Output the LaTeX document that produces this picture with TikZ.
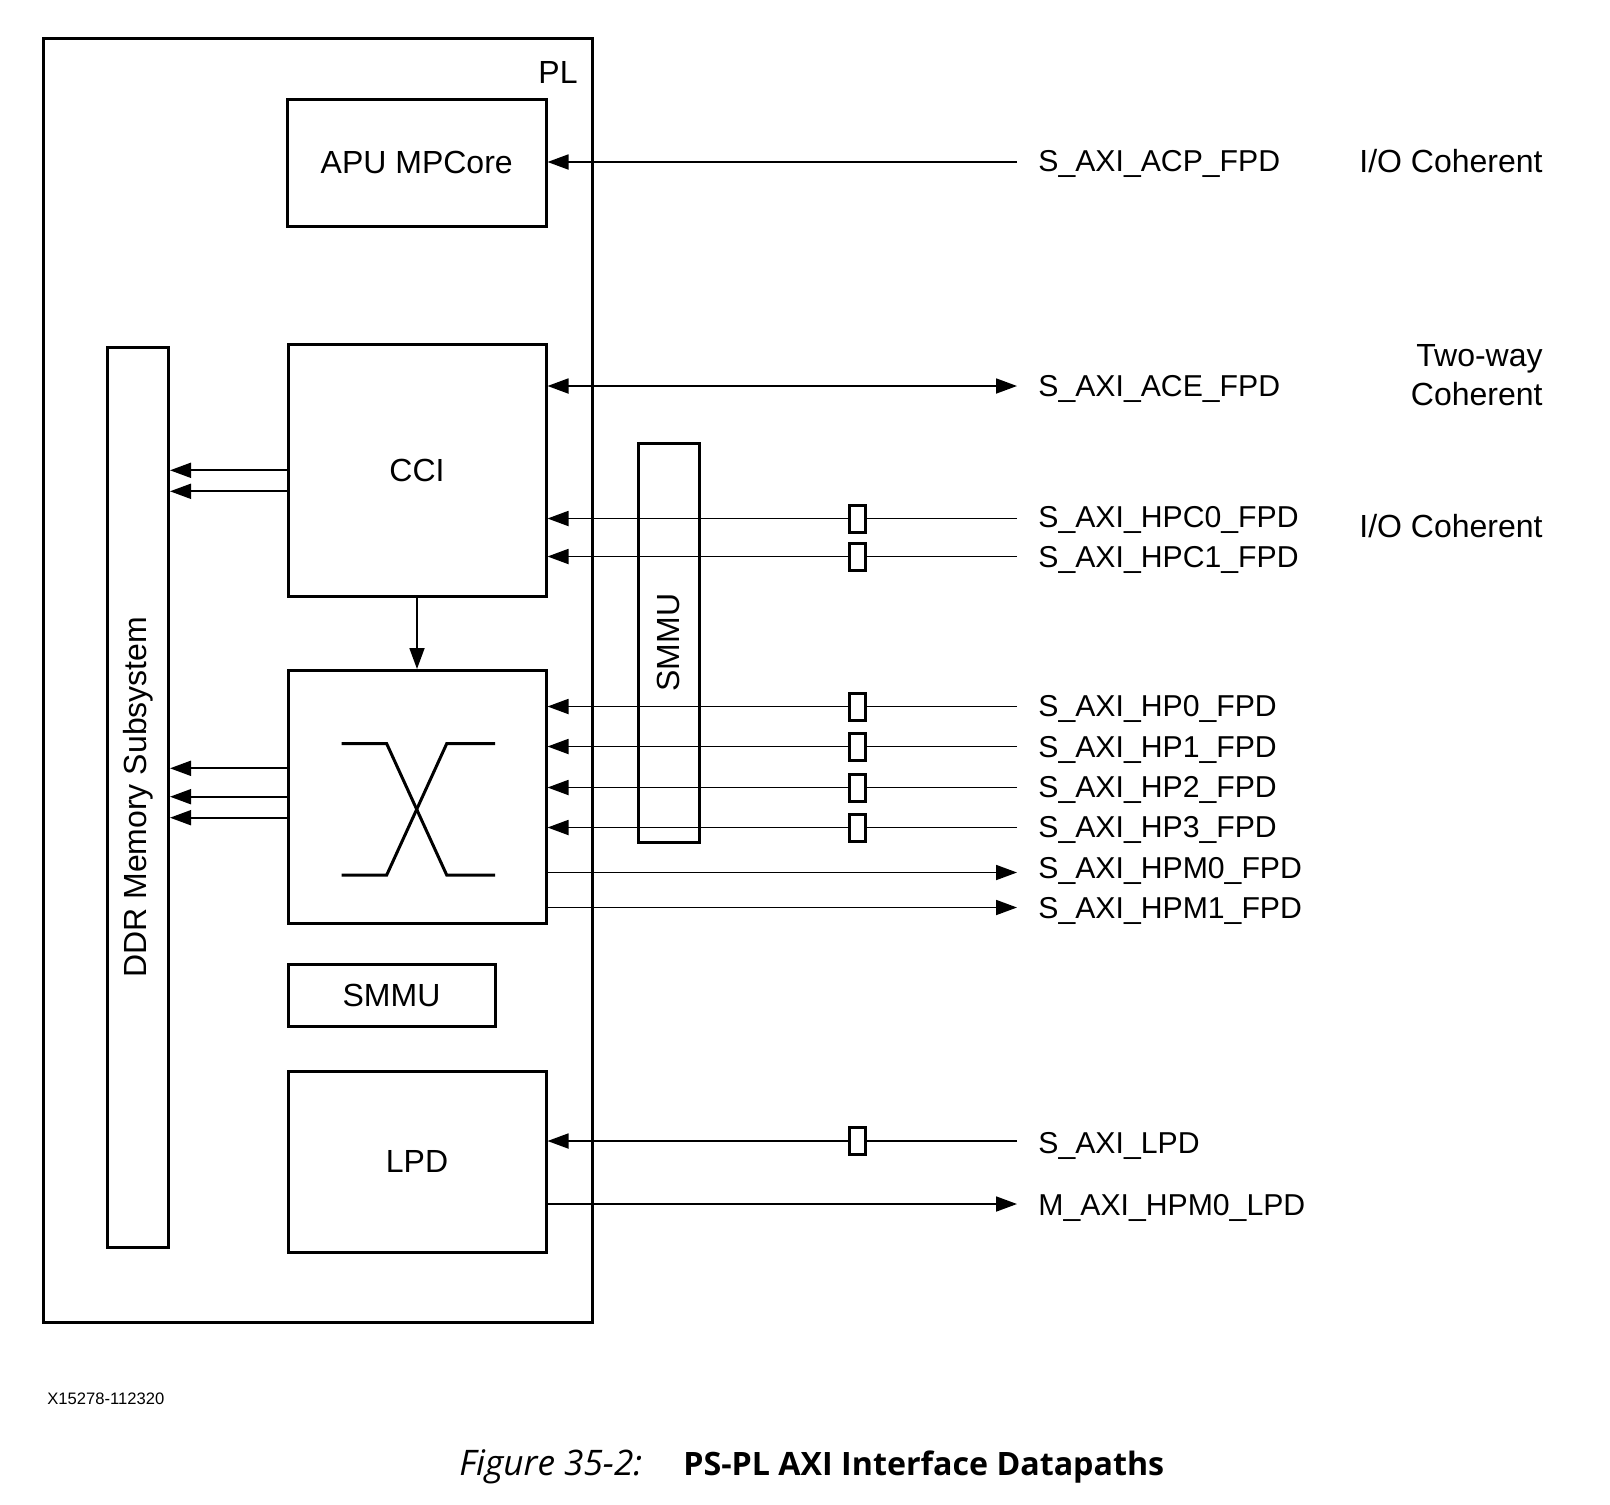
\documentclass[tikz,border=0pt]{standalone}
\usepackage{fontspec}
\setmainfont{Liberation Sans}
\newfontfamily\capfont{Open Sans}
\usetikzlibrary{arrows.meta,fit}
\begin{document}
\begin{tikzpicture}[x=0.5pt,y=-0.5pt,
  blk/.style={draw,line width=1.5pt,inner sep=0pt},
  buf/.style={draw,line width=1.5pt,fill=white,inner sep=0pt,minimum width=8pt,minimum height=13.5pt},
  con/.style={line width=0.9pt},
  arr/.style={con,-{Triangle[length=10.5pt,width=7.5pt]}},
  barr/.style={con,{Triangle[length=10.5pt,width=7.5pt]}-{Triangle[length=10.5pt,width=7.5pt]}},
  sig/.style={anchor=west,inner sep=0pt,text height=10.7pt,text depth=0pt,font=\fontsize{15.1}{18}\selectfont},
  txt/.style={font=\fontsize{16}{19.5}\selectfont},
]
\useasboundingbox (0,0) rectangle (1610,1504);

% outer PL box
\node[blk,fit={(43,39) (592,1322)}] (pl) {};
\node[txt,anchor=east,inner sep=0pt] (plT) at (578,72) {PL};

% blocks
\node[blk,fit={(287.5,99.5) (546,226)},label={[txt]center:APU MPCore}] (apu) {};
\node[blk,fit={(288,344) (546,596.5)},label={[txt]center:CCI}] (cci) {};
\node[blk,fit={(107,347) (168.5,1247.5)},label={[txt,rotate=90]center:DDR Memory Subsystem}] (ddr) {};
\node[blk,fit={(288,670.5) (546,923.5)}] (xbar) {};
\node[blk,fit={(288,964) (495,1026)},label={[txt]center:SMMU}] (smmu) {};
\node[blk,fit={(288,1071) (546,1252)},label={[txt]center:LPD}] (lpd) {};
\node[blk,fit={(638,443) (699,842)},label={[txt,rotate=90]center:SMMU}] (smmuv) {};

% crossbar symbol
\draw[line width=1.5pt] (341.7,743.7) -- (386.7,743.7) -- (446.7,875) -- (495,875);
\draw[line width=1.5pt] (341.7,875) -- (386.7,875) -- (446.7,743.7) -- (495,743.7);

% CCI -> crossbar
\draw[arr] (cci) -- (xbar);

% to DDR
\coordinate (d1) at (288,470.3);
\coordinate (d2) at (288,491.3);
\coordinate (d3) at (288,768.3);
\coordinate (d4) at (288,796.7);
\coordinate (d5) at (288,817.7);
\foreach \c in {d1,d2,d3,d4,d5} \draw[arr] (\c) -- (\c -| ddr.east);

% ACP
\coordinate (eACP) at (1017,162);
\node[sig] (lACP) at (1038,161) {S\_AXI\_ACP\_FPD};
\draw[arr] (eACP) -- (eACP -| apu.east);

% ACE
\coordinate (eACE) at (1017,386);
\node[sig] (lACE) at (1038,386) {S\_AXI\_ACE\_FPD};
\draw[barr] (eACE -| cci.east) -- (eACE);

% buffered slave ports
\coordinate (eHPC0) at (1017,518.5);
\node[buf] (bHPC0) at (857.5,518.5) {};
\node[sig] (lHPC0) at (1038,517) {S\_AXI\_HPC0\_FPD};
\draw[con] (eHPC0) -- (bHPC0);
\draw[arr] (bHPC0) -- (bHPC0 -| cci.east);

\coordinate (eHPC1) at (1017,556.5);
\node[buf] (bHPC1) at (857.5,556.5) {};
\node[sig] (lHPC1) at (1038,556.5) {S\_AXI\_HPC1\_FPD};
\draw[con] (eHPC1) -- (bHPC1);
\draw[arr] (bHPC1) -- (bHPC1 -| cci.east);

\coordinate (eHP0) at (1017,706.5);
\node[buf] (bHP0) at (857.5,706.5) {};
\node[sig] (lHP0) at (1038,706) {S\_AXI\_HP0\_FPD};
\draw[con] (eHP0) -- (bHP0);
\draw[arr] (bHP0) -- (bHP0 -| xbar.east);

\coordinate (eHP1) at (1017,746.5);
\node[buf] (bHP1) at (857.5,746.5) {};
\node[sig] (lHP1) at (1038,747) {S\_AXI\_HP1\_FPD};
\draw[con] (eHP1) -- (bHP1);
\draw[arr] (bHP1) -- (bHP1 -| xbar.east);

\coordinate (eHP2) at (1017,787.5);
\node[buf] (bHP2) at (857.5,787.5) {};
\node[sig] (lHP2) at (1038,786.7) {S\_AXI\_HP2\_FPD};
\draw[con] (eHP2) -- (bHP2);
\draw[arr] (bHP2) -- (bHP2 -| xbar.east);

\coordinate (eHP3) at (1017,827.5);
\node[buf] (bHP3) at (857.5,827.5) {};
\node[sig] (lHP3) at (1038,826.7) {S\_AXI\_HP3\_FPD};
\draw[con] (eHP3) -- (bHP3);
\draw[arr] (bHP3) -- (bHP3 -| xbar.east);

% master ports from crossbar
\coordinate (eHPM0) at (1017,872.5);
\node[sig] (lHPM0) at (1038,868) {S\_AXI\_HPM0\_FPD};
\draw[arr] (eHPM0 -| xbar.east) -- (eHPM0);

\coordinate (eHPM1) at (1017,907.5);
\node[sig] (lHPM1) at (1038,908) {S\_AXI\_HPM1\_FPD};
\draw[arr] (eHPM1 -| xbar.east) -- (eHPM1);

% LPD ports
\coordinate (eLPD) at (1017,1141);
\node[buf] (bLPD) at (857.5,1141) {};
\node[sig] (lLPD) at (1038,1143) {S\_AXI\_LPD};
\draw[con] (eLPD) -- (bLPD);
\draw[arr] (bLPD) -- (bLPD -| lpd.east);

\coordinate (eMLPD) at (1017,1204);
\node[sig] (lMLPD) at (1038,1204.5) {M\_AXI\_HPM0\_LPD};
\draw[arr] (eMLPD -| lpd.east) -- (eMLPD);

% coherency notes
\node[txt,anchor=east,inner sep=0pt] (n1) at (1543,161) {I/O Coherent};
\node[txt,anchor=east,inner sep=0pt,align=right] (n2) at (1543,375.5) {Two-way\\Coherent};
\node[txt,anchor=east,inner sep=0pt] (n3) at (1543,525.7) {I/O Coherent};

% footer
\node[anchor=west,inner sep=0pt,font=\fontsize{8.3}{10}\selectfont] (xid) at (47,1398.5) {X15278-112320};
\node[anchor=base west,inner sep=0pt,font=\capfont\itshape\fontsize{17.6}{20}\selectfont] (capA) at (459,1475) {Figure 35-2:};
\node[anchor=base west,inner sep=0pt,font=\capfont\bfseries\fontsize{16.1}{20}\selectfont] (capB) at (683,1475) {PS-PL AXI Interface Datapaths};
\end{tikzpicture}
\end{document}
